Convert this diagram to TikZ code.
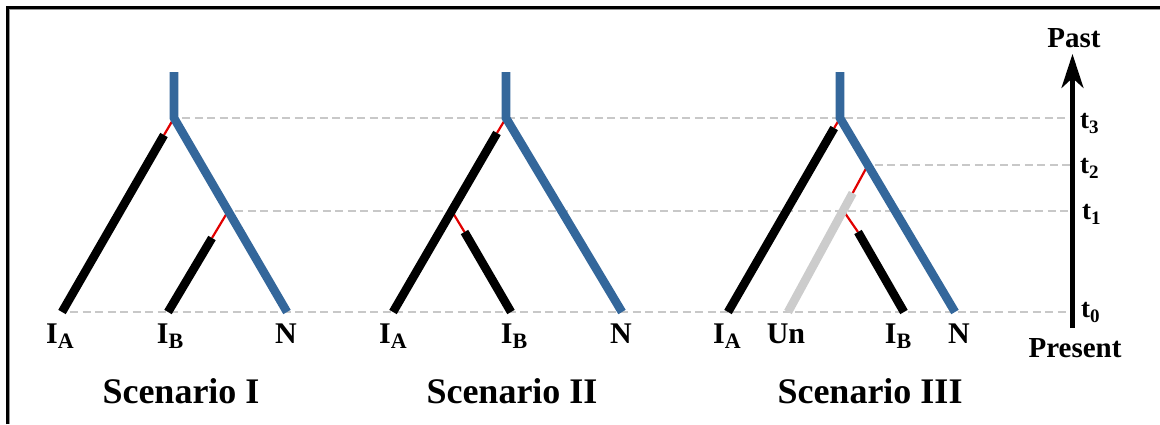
\documentclass[tikz,border=0pt]{standalone}
\usepackage{fontspec}
\setmainfont{Liberation Serif}
\usetikzlibrary{arrows.meta}
\definecolor{branchblue}{RGB}{52,103,155}
\definecolor{dashgray}{RGB}{200,200,200}
\definecolor{ungray}{RGB}{204,204,204}
\definecolor{linkred}{RGB}{225,0,0}
\definecolor{shadowgray}{RGB}{150,150,150}
\newcommand{\leafsub}[1]{\raisebox{-5.5pt}{\fontsize{22}{22}\selectfont #1}}
\newcommand{\timesub}[1]{\raisebox{-5pt}{\fontsize{19}{19}\selectfont #1}}
\begin{document}
\begin{tikzpicture}[x=1pt,y=-1pt,
  tdash/.style={dashgray, line width=2.4pt, dash pattern=on 8pt off 4.5pt},
  bluebr/.style={branchblue, line width=8.6pt, miter limit=10},
  blackbr/.style={black, line width=8.6pt},
  graybr/.style={ungray, line width=8.6pt},
  redlink/.style={linkred, line width=2.2pt},
  leaflabel/.style={font=\fontsize{30}{30}\selectfont\bfseries, anchor=base, inner sep=0pt},
  scenlabel/.style={font=\fontsize{36}{36}\selectfont\bfseries, anchor=base, inner sep=0pt},
  tlabel/.style={font=\fontsize{27}{27}\selectfont\bfseries, anchor=base west, inner sep=0pt},
  axislabel/.style={font=\fontsize{29}{29}\selectfont\bfseries, anchor=base, inner sep=0pt},
  axisarrow/.style={black, line width=4.2pt, -{Stealth[length=34pt,width=22pt,inset=10pt]}},
]
\useasboundingbox (0,0) rectangle (1160,424);
% frame
\draw[shadowgray, line width=1pt] (9.5,424) -- (9.5,9.5) -- (1160,9.5);
\draw[black, line width=3pt] (7.5,424) -- (7.5,7.5) -- (1160,7.5);

% ---------- coordinates ----------
% scenario I
\coordinate (s1top) at (174,72);
\coordinate (s1j3) at (174,118);
\coordinate (s1N) at (287,312);
\coordinate (s1A) at (62,312);
\coordinate (s1Atop) at (164,135);
\coordinate (s1j1) at (228.2,211);
\coordinate (s1Btop) at (212,238);
\coordinate (s1B) at (168,312);
% scenario II
\coordinate (s2top) at (506,72);
\coordinate (s2j3) at (506,118);
\coordinate (s2N) at (622,312);
\coordinate (s2A) at (393,312);
\coordinate (s2Atop) at (497,133);
\coordinate (s2j1) at (451.8,211);
\coordinate (s2Btop) at (464.5,232);
\coordinate (s2B) at (511,312);
% scenario III
\coordinate (s3top) at (840,72);
\coordinate (s3j3) at (840,118);
\coordinate (s3N) at (955,312);
\coordinate (s3A) at (728,312);
\coordinate (s3Atop) at (834.2,128);
\coordinate (s3j2) at (867.9,165);
\coordinate (s3Utop) at (852.7,193);
\coordinate (s3U) at (788,312);
\coordinate (s3j1) at (843.5,211);
\coordinate (s3Btop) at (858,232);
\coordinate (s3B) at (904,312);
% axis
\coordinate (ax3) at (1072.5,118);
\coordinate (ax2) at (1072.5,165);
\coordinate (ax1) at (1072.5,211);
\coordinate (ax0) at (1072.5,312);
\coordinate (axbot) at (1072.5,328);
\coordinate (axtop) at (1072.5,54);

% ---------- time lines ----------
\draw[tdash] ([xshift=8pt]s1j3) -- (ax3);
\draw[tdash] ([xshift=7pt]s3j2) -- (ax2);
\draw[tdash] ([xshift=7pt]s1j1) -- (ax1);
\draw[tdash] ([xshift=8pt]s1A) -- (ax0);

% ---------- red links ----------
\draw[redlink] (s1j3) -- (s1Atop);
\draw[redlink] (s1j1) -- (s1Btop);
\draw[redlink] (s2j3) -- (s2Atop);
\draw[redlink] (s2j1) -- (s2Btop);
\draw[redlink] (s3j3) -- (s3Atop);
\draw[redlink] (s3j2) -- (s3Utop);
\draw[redlink] (s3j1) -- (s3Btop);

% ---------- branches ----------
\draw[blackbr] (s1Atop) -- (s1A);
\draw[blackbr] (s1Btop) -- (s1B);
\draw[bluebr] (s1top) -- (s1j3) -- (s1N);

\draw[blackbr] (s2Atop) -- (s2A);
\draw[blackbr] (s2Btop) -- (s2B);
\draw[bluebr] (s2top) -- (s2j3) -- (s2N);

\draw[blackbr] (s3Atop) -- (s3A);
\draw[graybr] (s3Utop) -- (s3U);
\draw[blackbr] (s3Btop) -- (s3B);
\draw[bluebr] (s3top) -- (s3j3) -- (s3N);

% ---------- axis ----------
\draw[axisarrow] (axbot) -- (axtop);
\node[axislabel] (past) at (1074,47) {Past};
\node[axislabel] (present) at (1075,357) {Present};
\node[tlabel] (t3) at (1080,128) {t\timesub{3}};
\node[tlabel] (t2) at (1080,173) {t\timesub{2}};
\node[tlabel] (t1) at (1082,219) {t\timesub{1}};
\node[tlabel] (t0) at (1081,317) {t\timesub{0}};

% ---------- leaf labels ----------
\node[leaflabel] (l1A) at (60,343) {I\leafsub{A}};
\node[leaflabel] (l1B) at (170,343) {I\leafsub{B}};
\node[leaflabel] (l1N) at (286,343) {N};
\node[leaflabel] (l2A) at (393,343) {I\leafsub{A}};
\node[leaflabel] (l2B) at (514,343) {I\leafsub{B}};
\node[leaflabel] (l2N) at (621,343) {N};
\node[leaflabel] (l3A) at (727,343) {I\leafsub{A}};
\node[leaflabel] (l3U) at (786,343) {Un};
\node[leaflabel] (l3B) at (898,343) {I\leafsub{B}};
\node[leaflabel] (l3N) at (959,343) {N};

% ---------- scenario titles ----------
\node[scenlabel] (sc1) at (181,403) {Scenario I};
\node[scenlabel] (sc2) at (512,403) {Scenario II};
\node[scenlabel] (sc3) at (870,403) {Scenario III};
\end{tikzpicture}
\end{document}
